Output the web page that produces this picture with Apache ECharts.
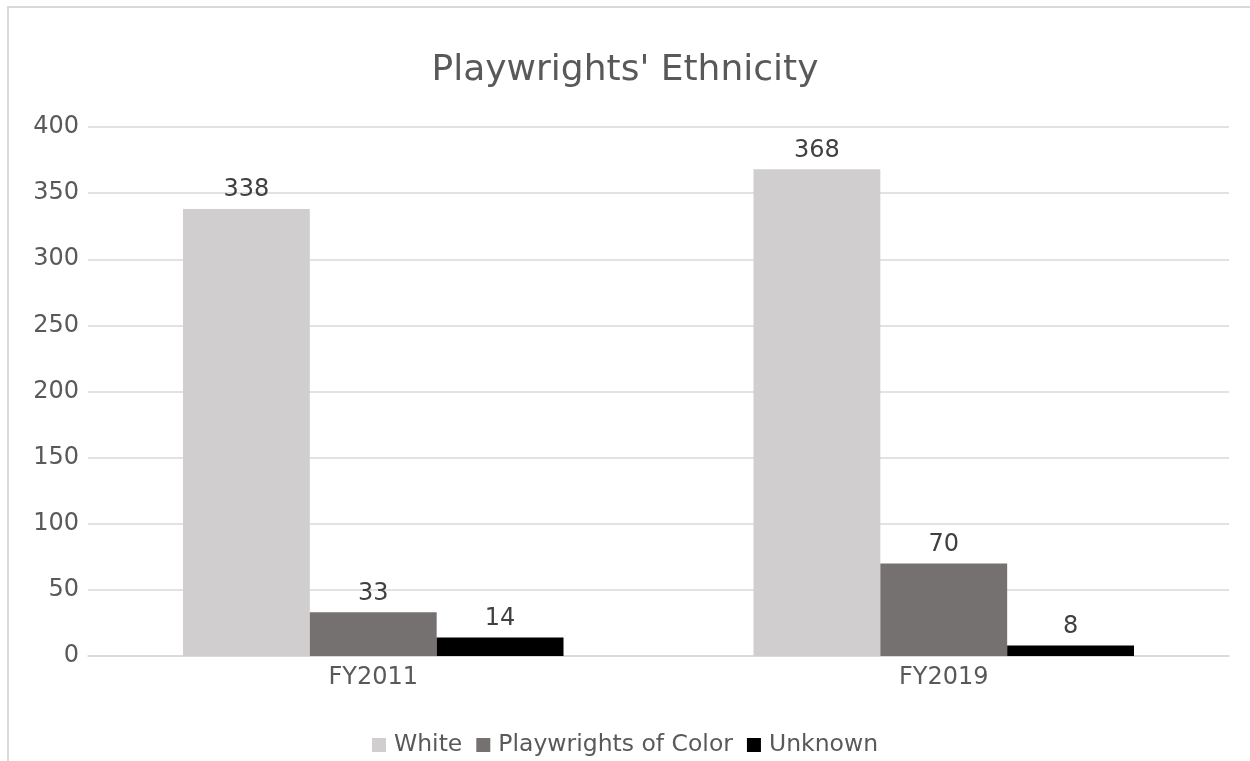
<!DOCTYPE html>
<html>
<head>
<meta charset="utf-8">
<script src="https://cdn.jsdelivr.net/npm/echarts@6/dist/echarts.min.js"></script>
<style>
html,body{margin:0;padding:0;background:#fff;}
#chart{width:1250px;height:761px;}
</style>
</head>
<body>
<div id="chart"></div>
<script>
const categories = ['FY2011', 'FY2019'];
const seriesNames = ['White', 'Playwrights of Color', 'Unknown'];
const whiteValues = [338, 368];
const pocValues = [33, 70];
const unknownValues = [14, 8];
const yTicks = [0, 50, 100, 150, 200, 250, 300, 350, 400];
const colors = ['#D0CECE', '#767171', '#000000'];

const font = 'DejaVu Sans';
const chart = echarts.init(document.getElementById('chart'));
const values = [whiteValues, pocValues, unknownValues];

chart.setOption({
  animation: false,
  backgroundColor: '#ffffff',
  textStyle: { fontFamily: font },
  title: {
    text: "Playwrights' Ethnicity",
    left: 'center',
    top: 48,
    textStyle: { fontFamily: font, fontSize: 36, fontWeight: 'normal', color: '#595959' }
  },
  graphic: [{
    type: 'rect',
    shape: { x: 8, y: 7, width: 1300, height: 900 },
    style: { fill: 'none', stroke: '#D9D9D9', lineWidth: 2 },
    silent: true
  }],
  legend: {
    data: seriesNames,
    left: 'center',
    top: 728,
    itemWidth: 14,
    itemHeight: 14,
    itemGap: 14,
    icon: 'rect',
    textStyle: { fontFamily: font, fontSize: 23.5, color: '#595959', padding: [0, 0, 0, 3] }
  },
  grid: { left: 88, right: 21, top: 127, bottom: 105, containLabel: false },
  xAxis: {
    type: 'category',
    data: categories,
    axisTick: { show: false },
    axisLine: { lineStyle: { color: '#D9D9D9', width: 1.5 } },
    axisLabel: { fontFamily: font, fontSize: 24, color: '#595959', margin: 10 }
  },
  yAxis: {
    type: 'value',
    min: yTicks[0],
    max: yTicks[yTicks.length - 1],
    interval: yTicks[1] - yTicks[0],
    axisLine: { show: false },
    axisTick: { show: false },
    splitLine: { lineStyle: { color: '#D9D9D9', width: 1.5 } },
    axisLabel: { fontFamily: font, fontSize: 24, color: '#595959', margin: 9 }
  },
  series: seriesNames.map((name, i) => ({
    name: name,
    type: 'bar',
    data: values[i],
    barGap: '0%',
    barCategoryGap: '33.3%',
    itemStyle: { color: colors[i] },
    label: {
      show: true,
      position: 'top',
      distance: 7,
      fontFamily: font,
      fontSize: 24,
      color: '#404040'
    }
  }))
});
</script>
</body>
</html>
